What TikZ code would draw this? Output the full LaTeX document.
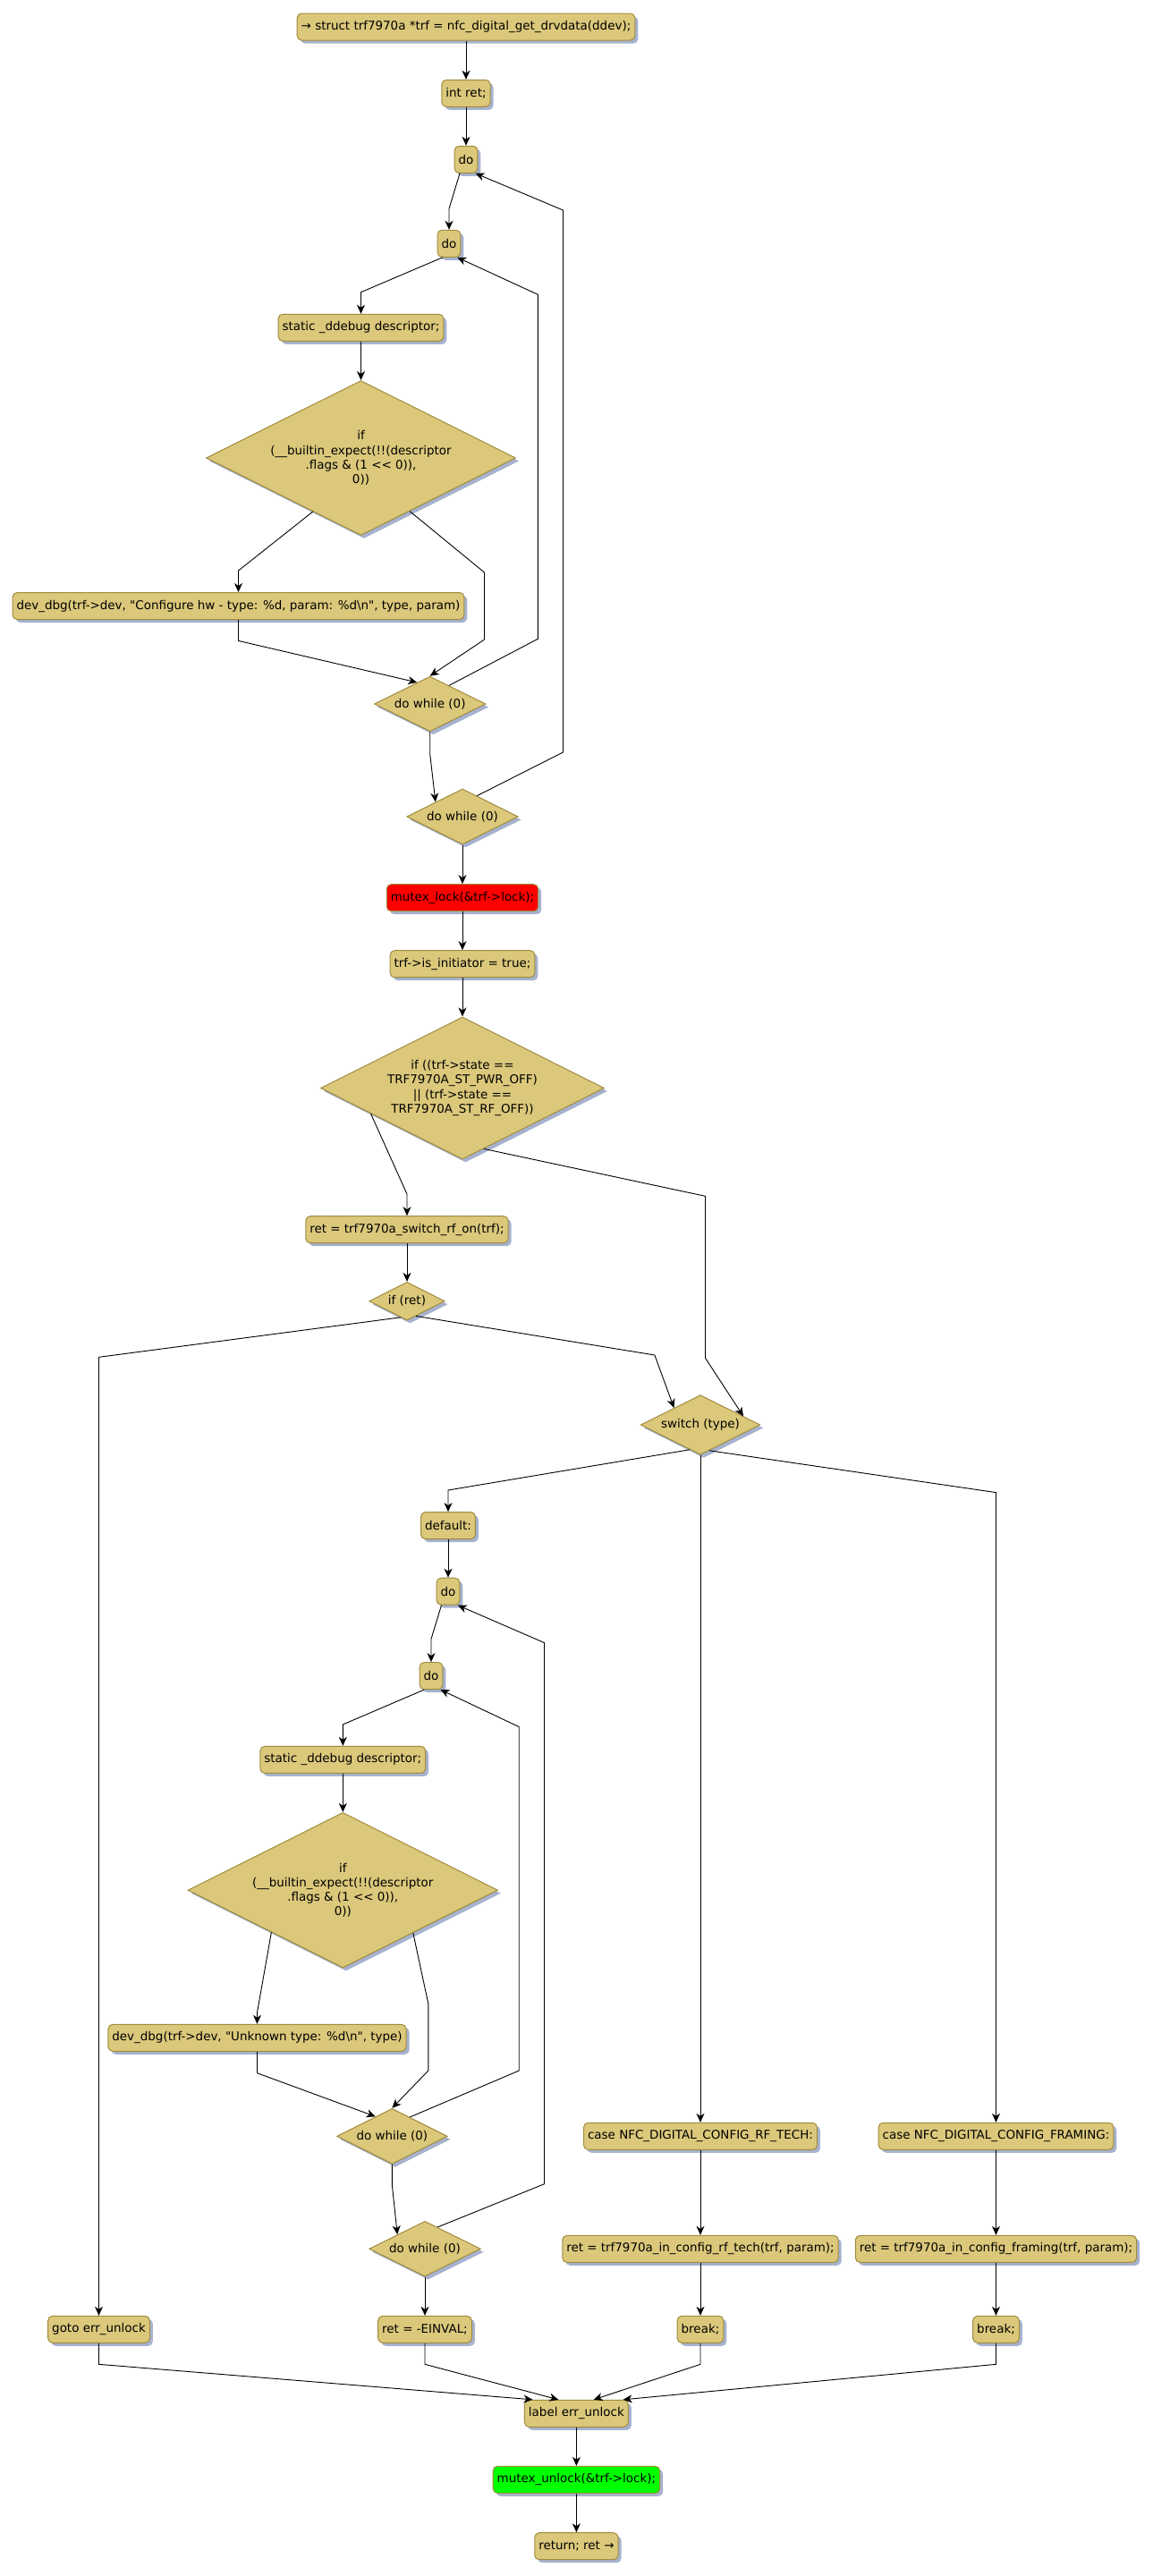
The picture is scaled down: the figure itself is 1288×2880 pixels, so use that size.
\documentclass[tikz,border=0pt]{standalone}
\usepackage{fontspec}
\setmainfont{DejaVu Sans}[Ligatures=TeXOff]
\usetikzlibrary{shapes.geometric,arrows.meta,shadows,calc}
\definecolor{boxc}{HTML}{DBC87B}
\definecolor{bordc}{HTML}{A08B3C}
\definecolor{shadc}{HTML}{A6B2CE}
\begin{document}
\begin{tikzpicture}[x=1pt,y=-1pt,
  txt/.style={font=\fontsize{13.45pt}{16.3pt}\selectfont},
  shad/.style={drop shadow={shadow xshift=3.5pt,shadow yshift=-3.5pt,fill=shadc,opacity=1}},
  box/.style={txt,shad,draw=bordc,fill=boxc,rounded corners=5pt,line width=1pt,
    minimum height=30pt,inner xsep=4.5pt,inner ysep=0pt},
  dia/.style={txt,shad,diamond,shape aspect=2,draw=bordc,fill=boxc,line width=1pt,
    inner sep=0pt,align=center},
  arr/.style={-{Stealth[length=10pt,width=9pt,inset=3pt]},line width=0.9pt,black}]
\useasboundingbox (0,0) rectangle (1288,2880);
% nodes
\node[box] (n1) at (521,30) {→ struct trf7970a *trf = nfc\_digital\_get\_drvdata(ddev);};
\node[box] (n2) at (521,104.3) {int ret;};
\node[box] (n3) at (521,178.3) {do};
\node[box] (n4) at (502,272.3) {do};
\node[box] (n5) at (403.5,366.3) {static \_ddebug descriptor;};
\node[dia,minimum width=346pt,minimum height=173pt] (d1) at (403.5,512) {if\\(\_\_builtin\_expect(!!(descriptor\\.flags \& (1 << 0)),\\0))};
\node[box] (n7) at (266.5,677.5) {dev\_dbg(trf->dev, "Configure hw - type: \%d, param: \%d\textbackslash n", type, param)};
\node[dia,minimum width=124.5pt,minimum height=61.5pt] (dw1) at (480.7,787) {do while (0)};
\node[dia,minimum width=124.5pt,minimum height=62pt] (dw2) at (517,913) {do while (0)};
\node[box,fill=red] (n10) at (517,1003.7) {mutex\_lock(\&trf->lock);};
\node[box] (n11) at (517,1077.7) {trf->is\_initiator = true;};
\node[dia,minimum width=317pt,minimum height=159pt] (d2) at (517,1216.5) {if ((trf->state ==\\TRF7970A\_ST\_PWR\_OFF)\\|| (trf->state ==\\TRF7970A\_ST\_RF\_OFF))};
\node[box] (n13) at (455,1374.7) {ret = trf7970a\_switch\_rf\_on(trf);};
\node[dia,minimum width=84.4pt,minimum height=42.7pt] (d3) at (455,1454.7) {if (ret)};
\node[dia,minimum width=133.5pt,minimum height=66.7pt] (d4) at (783,1593) {switch (type)};
\node[box] (n16) at (501,1705.6) {default:};
\node[box] (n17) at (501,1779.2) {do};
\node[box] (n18) at (482,1873.6) {do};
\node[box] (n19) at (383.3,1967.4) {static \_ddebug descriptor;};
\node[dia,minimum width=346.4pt,minimum height=173.6pt] (d5) at (383.3,2113.2) {if\\(\_\_builtin\_expect(!!(descriptor\\.flags \& (1 << 0)),\\0))};
\node[box] (n21) at (287.5,2278.3) {dev\_dbg(trf->dev, "Unknown type: \%d\textbackslash n", type)};
\node[dia,minimum width=123.6pt,minimum height=62pt] (dw3) at (438.4,2388.3) {do while (0)};
\node[dia,minimum width=124.6pt,minimum height=61.7pt] (dw4) at (475,2514.2) {do while (0)};
\node[box] (n24) at (783,2388.3) {case NFC\_DIGITAL\_CONFIG\_RF\_TECH:};
\node[box] (n25) at (1113.5,2388.3) {case NFC\_DIGITAL\_CONFIG\_FRAMING:};
\node[box] (n26) at (783,2514.3) {ret = trf7970a\_in\_config\_rf\_tech(trf, param);};
\node[box] (n27) at (1113.5,2514.3) {ret = trf7970a\_in\_config\_framing(trf, param);};
\node[box] (n28) at (110.5,2604.3) {goto err\_unlock};
\node[box] (n29) at (475,2604.3) {ret = -EINVAL;};
\node[box] (n30) at (783,2604.3) {break;};
\node[box] (n31) at (1113.5,2604.3) {break;};
\node[box] (n32) at (644.4,2698.3) {label err\_unlock};
\node[box,fill=green] (n33) at (644.4,2772.3) {mutex\_unlock(\&trf->lock);};
\node[box] (n34) at (644.4,2846.7) {return; ret →};
% edges
\draw[arr] (n1.south) -- (n2.north);
\draw[arr] (n2.south) -- (n3.north);
\draw[arr] ($(n3.south)+(-7,0)$) -- (502,233.3) -- (n4.north);
\draw[arr] ($(n4.south)+(-7.2,0)$) -- (403.5,326.7) -- (n5.north);
\draw[arr] (n5.south) -- (d1.north);
\draw[arr] ($(d1.west)!0.69!(d1.south)$) -- (266.5,638) -- (n7.north);
\draw[arr] ($(d1.south)!0.315!(d1.east)$) -- (541.5,640) -- (541.5,715) -- (dw1.north);
\draw[arr] (n7.south) -- (266.5,716.4) -- ($(dw1.west)!0.77!(dw1.north)$);
\draw[arr] ($(dw1.north)!0.34!(dw1.east)$) -- (601.3,714.3) -- (601.3,329.3) -- ($(n4.south)+(9.2,0)$);
\draw[arr] (dw1.south) -- (480.7,843) -- ($(dw2.west)!0.52!(dw2.north)$);
\draw[arr] ($(dw2.north)!0.26!(dw2.east)$) -- (629.5,841) -- (629.5,235) -- ($(n3.south)+(10.5,0)$);
\draw[arr] (dw2.south) -- (n10.north);
\draw[arr] (n10.south) -- (n11.north);
\draw[arr] (n11.south) -- (d2.north);
\draw[arr] ($(d2.west)!0.355!(d2.south)$) -- (455,1335) -- (n13.north);
\draw[arr] ($(d2.south)!0.151!(d2.east)$) -- (788.5,1337.3) -- (788.5,1518.3) -- ($(d4.north)!0.714!(d4.east)$);
\draw[arr] (n13.south) -- (d3.north);
\draw[arr] ($(d3.west)!0.83!(d3.south)$) -- (110.5,1517.3) -- (n28.north);
\draw[arr] ($(d3.south)!0.237!(d3.east)$) -- (731.9,1515) -- ($(d4.west)!0.561!(d4.north)$);
\draw[arr] ($(d4.west)!0.82!(d4.south)$) -- (501,1666) -- (n16.north);
\draw[arr] (d4.south) -- (n24.north);
\draw[arr] ($(d4.south)!0.15!(d4.east)$) -- (1113.5,1668.6) -- (n25.north);
\draw[arr] (n16.south) -- (n17.north);
\draw[arr] ($(n17.south)+(-7.5,0)$) -- (482,1832.4) -- (n18.north);
\draw[arr] ($(n18.south)+(-7.8,0)$) -- (383.3,1928) -- (n19.north);
\draw[arr] (n19.south) -- (d5.north);
\draw[arr] ($(d5.west)!0.54!(d5.south)$) -- (287.5,2250) -- (n21.north);
\draw[arr] ($(d5.south)!0.452!(d5.east)$) -- (478.8,2240) -- (478.8,2315) -- (dw3.north);
\draw[arr] (n21.south) -- (287.5,2317.7) -- ($(dw3.west)!0.7!(dw3.north)$);
\draw[arr] ($(dw3.north)!0.32!(dw3.east)$) -- (580.2,2315) -- (580.2,1930.6) -- ($(n18.south)+(10.5,0)$);
\draw[arr] (dw3.south) -- (438.4,2443.3) -- ($(dw4.west)!0.51!(dw4.north)$);
\draw[arr] ($(dw4.north)!0.226!(dw4.east)$) -- (608.5,2441.7) -- (608.5,1836.6) -- ($(n17.south)+(10.9,0)$);
\draw[arr] (dw4.south) -- (n29.north);
\draw[arr] (n24.south) -- (n26.north);
\draw[arr] (n26.south) -- (n30.north);
\draw[arr] (n25.south) -- (n27.north);
\draw[arr] (n27.south) -- (n31.north);
\draw[arr] (n28.south) -- (110.5,2643.3) -- ($(n32.north)+(-48.9,0)$);
\draw[arr] (n29.south) -- (475,2643.3) -- ($(n32.north)+(-20.1,0)$);
\draw[arr] (n30.south) -- (783,2643.3) -- ($(n32.north)+(19.3,0)$);
\draw[arr] (n31.south) -- (1113.5,2643.3) -- ($(n32.north)+(52.2,0)$);
\draw[arr] (n32.south) -- (n33.north);
\draw[arr] (n33.south) -- (n34.north);
\end{tikzpicture}
\end{document}
